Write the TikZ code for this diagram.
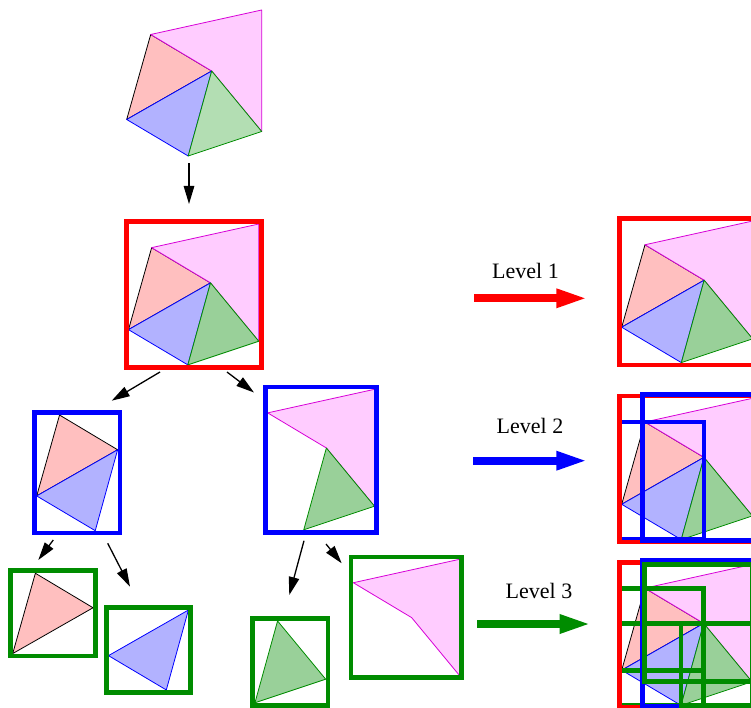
\documentclass[tikz,border=0pt]{standalone}
\usepackage{fontspec}
\setmainfont{Liberation Serif}
\usetikzlibrary{arrows.meta,fit}

\definecolor{pinkfill}{RGB}{255,204,255}
\definecolor{salmonfill}{RGB}{255,191,191}
\definecolor{bluefill}{RGB}{178,178,255}
\definecolor{greenfill}{RGB}{153,208,153}
\definecolor{greenfilltop}{RGB}{179,222,179}
\definecolor{edgemag}{RGB}{215,0,215}
\definecolor{darkgreen}{RGB}{0,140,0}

% vertices of the polygon, in a frame whose origin is its bounding box corner
\newcommand{\shapepts}[1]{%
  \coordinate (#1A) at (24,24.5);
  \coordinate (#1B) at (135,0);
  \coordinate (#1C) at (135,121.5);
  \coordinate (#1D) at (85,61);
  \coordinate (#1E) at (0,109.5);
  \coordinate (#1F) at (61.5,146);}
\newcommand{\salmontri}[1]{\path[tsal] (#1A) -- (#1D) -- (#1E) -- cycle;}
\newcommand{\pinkquad}[1]{\path[tpink] (#1A) -- (#1B) -- (#1C) -- (#1D) -- cycle;}
\newcommand{\bluetri}[1]{\path[tblue] (#1D) -- (#1E) -- (#1F) -- cycle;}
\newcommand{\greentri}[2][greenfill]{\path[tgreen, fill=#1] (#2D) -- (#2C) -- (#2F) -- cycle;}

\begin{document}
\begin{tikzpicture}[x=1pt, y=-1pt,
  tsal/.style={fill=salmonfill, draw=black, line width=0.8pt, line join=round},
  tpink/.style={fill=pinkfill, draw=edgemag, line width=0.8pt, line join=round},
  tblue/.style={fill=bluefill, draw=blue, line width=0.8pt, line join=round},
  tgreen/.style={draw=darkgreen, line width=0.8pt, line join=round},
  bbox/.style={draw=#1, rectangle, line width=4.8pt, inner sep=2.4pt, outer sep=0pt},
  leftinner/.style={inner ysep=0pt, inner xsep=1.2pt, xshift=-1.2pt},
  down/.style={draw=black, line width=1.3pt, -{Triangle[length=18pt, width=10.5pt]}},
  levelarrow/.style={draw=#1, line width=8pt, -{Triangle[length=32pt, width=17pt]}},
  leveltext/.style={font=\fontsize{22}{24}\selectfont, inner sep=0pt}]

\clip (0,0) rectangle (751,708);
\fill[white] (0,0) rectangle (751,708);

% ---------- hierarchy on the left ----------
% input polygon
\begin{scope}[shift={(126.7,10)}]
  \shapepts{t}
  \salmontri{t}\pinkquad{t}\bluetri{t}\greentri[greenfilltop]{t}
\end{scope}

% level 1
\begin{scope}[shift={(128.5,224)}, scale=0.965]
  \shapepts{r}
  \salmontri{r}\pinkquad{r}\bluetri{r}\greentri{r}
\end{scope}
\node[bbox=red, fit=(rA)(rB)(rC)(rE)(rF)] (boxone) {};

% level 2
\begin{scope}[shift={(36.7,391.7)}, scale=0.952]
  \shapepts{bl}
  \salmontri{bl}\bluetri{bl}
\end{scope}
\node[bbox=blue, fit=(blA)(blD)(blE)(blF)] (boxtwoL) {};

\begin{scope}[shift={(244.6,389.3)}, scale=0.962]
  \shapepts{br}
  \pinkquad{br}\greentri{br}
\end{scope}
\node[bbox=blue, fit=(brA)(brB)(brC)(brF)] (boxtwoR) {};

% level 3
\begin{scope}[shift={(12.7,550.1)}, scale=0.945]
  \shapepts{ls}
  \salmontri{ls}
\end{scope}
\node[bbox=darkgreen, fit=(lsA)(lsD)(lsE)] (leafsalmon) {};

\begin{scope}[shift={(108.5,552.7)}, scale=0.94]
  \shapepts{lb}
  \bluetri{lb}
\end{scope}
\node[bbox=darkgreen, fit=(lbD)(lbE)(lbF)] (leafblue) {};

\begin{scope}[shift={(195.8,562.3)}, scale=0.962]
  \shapepts{lg}
  \greentri{lg}
\end{scope}
\node[bbox=darkgreen, fit=(lgD)(lgC)(lgF)] (leafgreen) {};

\begin{scope}[shift={(330.4,559.3)}, scale=0.956]
  \shapepts{lp}
  \pinkquad{lp}
\end{scope}
\node[bbox=darkgreen, fit=(lpA)(lpB)(lpC)(lpD)] (leafpink) {};

% arrows of the tree
\coordinate (sTop) at (189,163.3);   \coordinate (eTop) at (189,204);
\coordinate (sL1a) at (160,372);     \coordinate (eL1a) at (111.7,400.7);
\coordinate (sL1b) at (227,372);     \coordinate (eL1b) at (254,392.5);
\coordinate (sL2a) at (53.3,540);    \coordinate (eL2a) at (38.3,560);
\coordinate (sL2b) at (107.7,543.3); \coordinate (eL2b) at (130,586.7);
\coordinate (sL2c) at (304,540.7);   \coordinate (eL2c) at (289.3,595);
\coordinate (sL2d) at (326,544);     \coordinate (eL2d) at (341.7,563.3);
\draw[down] (sTop) -- (eTop);
\draw[down] (sL1a) -- (eL1a);
\draw[down] (sL1b) -- (eL1b);
\draw[down] (sL2a) -- (eL2a);
\draw[down] (sL2b) -- (eL2b);
\draw[down] (sL2c) -- (eL2c);
\draw[down] (sL2d) -- (eL2d);

% ---------- level labels and arrows ----------
\node[leveltext] (lvone) at (525.5,270.8) {Level 1};
\node[leveltext] (lvtwo) at (530,425.5) {Level 2};
\node[leveltext] (lvthree) at (539,591) {Level 3};
\coordinate (laOneS) at (474,298.3);   \coordinate (laOneE) at (588.3,298.3);
\coordinate (laTwoS) at (473.3,460.7); \coordinate (laTwoE) at (588.3,460.7);
\coordinate (laThrS) at (477.3,624);   \coordinate (laThrE) at (591.7,624);
\draw[levelarrow=red] (laOneS) -- (laOneE);
\draw[levelarrow=blue] (laTwoS) -- (laTwoE);
\draw[levelarrow=darkgreen] (laThrS) -- (laThrE);

% ---------- accumulated boxes on the right ----------
\begin{scope}[shift={(621.7,221)}, scale=0.97]
  \shapepts{pa}
  \salmontri{pa}\pinkquad{pa}\bluetri{pa}\greentri{pa}
\end{scope}
\node[bbox=red, fit=(paA)(paB)(paC)(paE)(paF)] (onered) {};

\begin{scope}[shift={(621.7,398.3)}, scale=0.968]
  \shapepts{pb}
  \salmontri{pb}\pinkquad{pb}\bluetri{pb}\greentri{pb}
\end{scope}
\node[bbox=blue, leftinner, fit=(pbA)(pbD)(pbE)(pbF)] (twoblueL) {};
\node[bbox=red, fit=(pbA)(pbB)(pbC)(pbE)(pbF)] (twored) {};
\node[bbox=blue, yshift=1.5pt, fit=(pbA)(pbB)(pbC)(pbF)] (twoblueR) {};

\begin{scope}[shift={(621.7,564.5)}, scale=0.965]
  \shapepts{pc}
  \salmontri{pc}\pinkquad{pc}\bluetri{pc}\greentri{pc}
\end{scope}
\node[bbox=blue, leftinner, fit=(pcA)(pcD)(pcE)(pcF)] (threeblueL) {};
\node[bbox=darkgreen, leftinner, fit=(pcA)(pcD)(pcE)] (threesalmon) {};
\node[bbox=darkgreen, leftinner, fit=(pcD)(pcE)(pcF)] (threeblue) {};
\node[bbox=red, fit=(pcA)(pcB)(pcC)(pcE)(pcF)] (threered) {};
\node[bbox=blue, yshift=1.5pt, fit=(pcA)(pcB)(pcC)(pcF)] (threeblueR) {};
\node[bbox=darkgreen, inner sep=0pt, fit=(pcD)(pcC)(pcF)] (threegreen) {};
\node[bbox=darkgreen, inner sep=0pt, fit=(pcA)(pcB)(pcC)(pcD)] (threepink) {};

\end{tikzpicture}
\end{document}
